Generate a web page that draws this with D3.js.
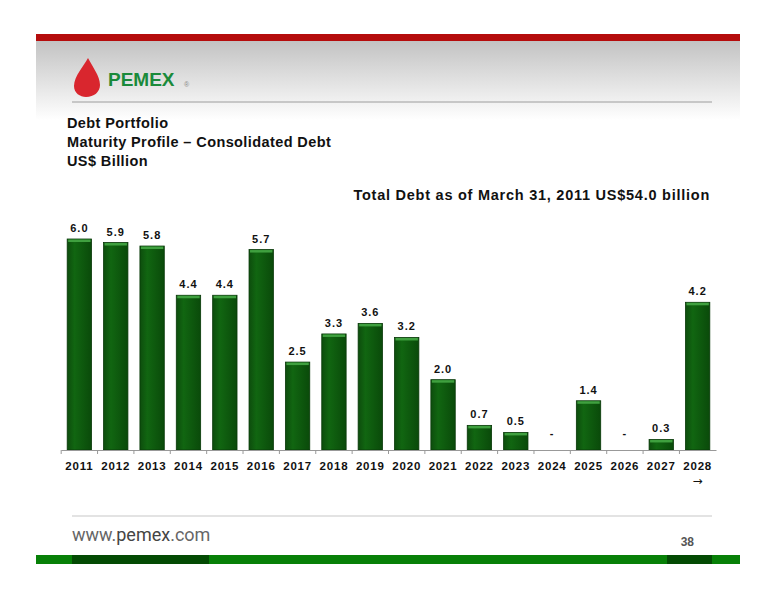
<!DOCTYPE html>
<html><head><meta charset="utf-8">
<script src="https://cdn.jsdelivr.net/npm/d3@7"></script>
<style>body{margin:0;background:#fff}svg{display:block}</style>
</head><body>
<script>
// data
const years = ["2011","2012","2013","2014","2015","2016","2017","2018","2019","2020","2021","2022","2023","2024","2025","2026","2027","2028"]
const debt = [6.0, 5.9, 5.8, 4.4, 4.4, 5.7, 2.5, 3.3, 3.6, 3.2, 2.0, 0.7, 0.5, 0, 1.4, 0, 0.3, 4.2]
const labels = ["6.0","5.9","5.8","4.4","4.4","5.7","2.5","3.3","3.6","3.2","2.0","0.7","0.5","-","1.4","-","0.3","4.2"]

const width = 776, height = 600
const svg = d3.select("body").append("svg").attr("width", width).attr("height", height)
const defs = svg.append("defs")

// header background
const hg = defs.append("linearGradient").attr("id", "hg").attr("x1", 0).attr("x2", 0).attr("y1", 0).attr("y2", 1)
hg.append("stop").attr("offset", "0%").attr("stop-color", "#c2c2c2")
hg.append("stop").attr("offset", "100%").attr("stop-color", "#ffffff")
svg.append("rect").attr("x", 36).attr("y", 40).attr("width", 704).attr("height", 80).attr("fill", "url(#hg)")
svg.append("rect").attr("x", 36).attr("y", 34).attr("width", 704).attr("height", 7).attr("fill", "#b50d0d")
svg.append("line").attr("x1", 72).attr("x2", 712).attr("y1", 102).attr("y2", 102).attr("stroke", "#b8b8b8").attr("stroke-width", 1.5)

// logo
svg.append("path").attr("d", "M88,58 C84,66 74,76 74,86 C74,93 80,97 86,97 C94,97 100,92 100,85 C100,76 92,66 88,58 Z").attr("fill", "#d9262e")
svg.append("text").attr("x", 108).attr("y", 86).attr("font-family", "Liberation Sans, Arial").attr("font-weight", "bold")
   .attr("font-size", 19).attr("fill", "#1a8a3a").text("PEMEX")
svg.append("text").attr("x", 184).attr("y", 87).attr("font-family", "Liberation Sans, Arial").attr("font-size", 7).attr("fill", "#888").text("®")

// titles
const ttl = svg.append("g").attr("font-family", "Liberation Sans, Arial").attr("font-weight", "bold").attr("font-size", 14.5).attr("fill", "#111").attr("letter-spacing", 0.4)
ttl.append("text").attr("x", 67).attr("y", 128).text("Debt Portfolio")
ttl.append("text").attr("x", 67).attr("y", 147).text("Maturity Profile – Consolidated Debt")
ttl.append("text").attr("x", 67).attr("y", 166).text("US$ Billion")
ttl.append("text").attr("x", 710).attr("y", 200).attr("text-anchor", "end").attr("letter-spacing", 0.75).text("Total Debt as of March 31, 2011 US$54.0 billion")

// chart
const x0 = 61, x1 = 716, base = 450
const x = d3.scaleBand().domain(years).range([x0, x1]).paddingInner(0.33).paddingOuter(0.17)
const y = d3.scaleLinear().domain([0, 6]).range([base, 239])

const bg = defs.append("linearGradient").attr("id", "bg").attr("x1", 0).attr("x2", 1)
bg.append("stop").attr("offset", "0%").attr("stop-color", "#0d4d0d")
bg.append("stop").attr("offset", "30%").attr("stop-color", "#116611")
bg.append("stop").attr("offset", "100%").attr("stop-color", "#0a4a0a")

const chart = svg.append("g")
const bars = chart.selectAll("g.bar").data(years).join("g").attr("class", "bar")
bars.filter((d, i) => debt[i] > 0).append("rect")
    .attr("x", d => x(d)).attr("y", (d, i) => y(debt[years.indexOf(d)]))
    .attr("width", x.bandwidth()).attr("height", d => base - y(debt[years.indexOf(d)]))
    .attr("fill", "url(#bg)").attr("stroke", "#083808").attr("stroke-width", 0.8)
bars.filter((d, i) => debt[i] > 0).append("rect")
    .attr("x", d => x(d) + 1).attr("y", d => y(debt[years.indexOf(d)]) + 0.5)
    .attr("width", x.bandwidth() - 2).attr("height", 2.5).attr("fill", "#3fa03f")

chart.selectAll("text.val").data(years).join("text").attr("class", "val")
    .attr("x", d => x(d) + x.bandwidth() / 2)
    .attr("y", (d, i) => debt[i] > 0 ? y(debt[i]) - 7 : base - 13)
    .attr("text-anchor", "middle").attr("font-family", "Liberation Sans, Arial").attr("font-weight", "bold")
    .attr("font-size", 11).attr("letter-spacing", 1).attr("fill", "#111")
    .text((d, i) => labels[i])

const axis = d3.axisBottom(x).tickSize(0).tickPadding(12)
const ax = chart.append("g").attr("transform", `translate(0,${base})`).call(axis)
ax.select(".domain").attr("stroke", "#999")
ax.selectAll("text").attr("font-family", "Liberation Sans, Arial").attr("font-weight", "bold").attr("font-size", 11.5).attr("fill", "#111").attr("letter-spacing", 0.8)
ax.selectAll(".tick").append("line").attr("x1", -x.step() / 2).attr("x2", -x.step() / 2).attr("y2", 4).attr("stroke", "#999")
svg.append("text").attr("x", x("2028") + x.bandwidth() / 2).attr("y", 485).attr("text-anchor", "middle")
   .attr("font-family", "DejaVu Sans").attr("font-size", 12).attr("fill", "#111").text("→")

// footer
svg.append("line").attr("x1", 72).attr("x2", 712).attr("y1", 516).attr("y2", 516).attr("stroke", "#c8c8c8").attr("stroke-width", 1.2)
svg.append("text").attr("x", 72).attr("y", 541).attr("font-family", "Roboto").attr("font-size", 18).attr("fill", "#666")
   .html('www.<tspan fill="#444">pemex</tspan>.com')
svg.append("text").attr("x", 694).attr("y", 546).attr("text-anchor", "end").attr("font-family", "Liberation Sans, Arial").attr("font-weight", "bold").attr("font-size", 12).attr("fill", "#555").text("38")
svg.append("rect").attr("x", 36).attr("y", 555).attr("width", 704).attr("height", 9).attr("fill", "#078007")
svg.append("rect").attr("x", 72).attr("y", 555).attr("width", 137).attr("height", 9).attr("fill", "#034a03")
svg.append("rect").attr("x", 667).attr("y", 555).attr("width", 45).attr("height", 9).attr("fill", "#034a03")
</script>
</body></html>
